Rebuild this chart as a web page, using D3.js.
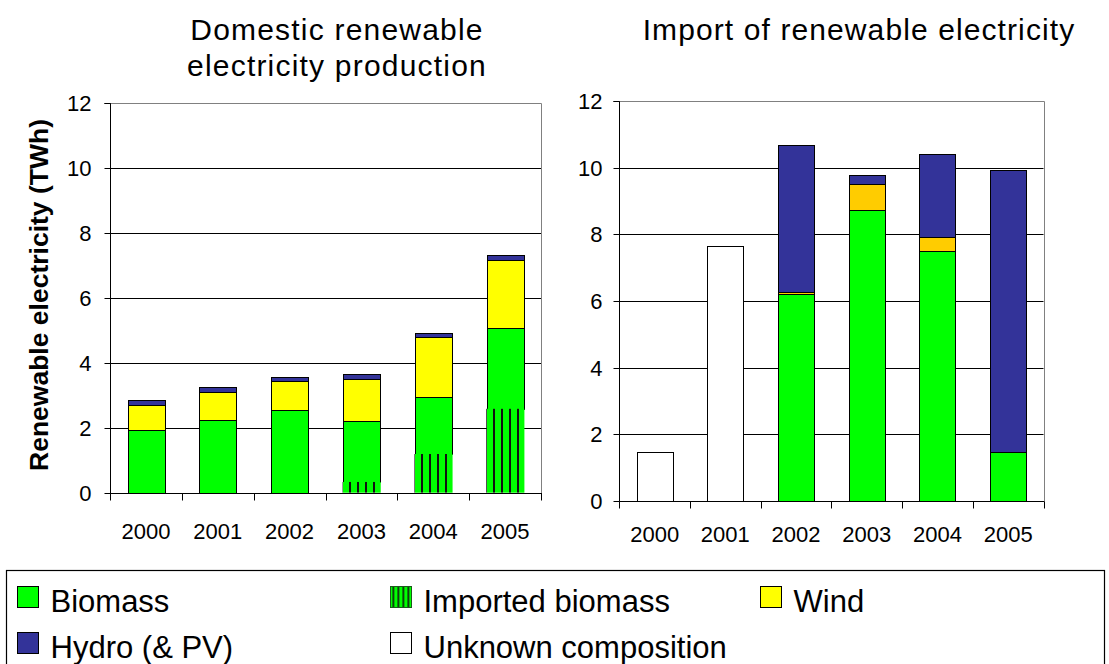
<!DOCTYPE html>
<html>
<head>
<meta charset="utf-8">
<script src="https://cdn.jsdelivr.net/npm/d3@7"></script>
<style>
  html, body { margin: 0; padding: 0; background: #fff; }
  svg { display: block; font-family: "Liberation Sans", Arial, sans-serif; }
</style>
</head>
<body>
<svg id="chart" width="1109" height="664"></svg>
<script>
// ---------- data ----------
const years = ["2000", "2001", "2002", "2003", "2004", "2005"];
const yTicks = [0, 2, 4, 6, 8, 10, 12];

// Domestic renewable electricity production (TWh)
const domImportedBiomass = [0, 0, 0, 0.33, 1.19, 2.58];
const domBiomass = [1.92, 2.25, 2.54, 1.88, 1.75, 2.50];
const domWind = [0.77, 0.86, 0.89, 1.30, 1.84, 2.08];
const domHydro = [0.17, 0.13, 0.13, 0.14, 0.14, 0.15];

// Import of renewable electricity (TWh)
const impUnknown = [1.47, 7.64, 0, 0, 0, 0];
const impBiomass = [0, 0, 6.20, 8.72, 7.51, 1.47];
const impWind = [0, 0, 0.08, 0.79, 0.40, 0];
const impHydro = [0, 0, 4.40, 0.26, 2.49, 8.45];

const legendItems = [
  { key: "biomass", label: "Biomass", col: 0, row: 0 },
  { key: "imported", label: "Imported biomass", col: 1, row: 0 },
  { key: "wind", label: "Wind", col: 2, row: 0 },
  { key: "hydro", label: "Hydro (& PV)", col: 0, row: 1 },
  { key: "unknown", label: "Unknown composition", col: 1, row: 1 }
];

// ---------- styles ----------
const COLORS = {
  biomass: "#00FF00",
  imported: "url(#hatch)",
  wind: "#FFFF00",
  windImp: "#FFCC00",
  hydro: "#333399",
  unknown: "#FFFFFF"
};

const svg = d3.select("#chart");
const defs = svg.append("defs");
const pat = defs.append("pattern")
  .attr("id", "hatch").attr("patternUnits", "userSpaceOnUse")
  .attr("width", 8).attr("height", 8);
pat.append("rect").attr("width", 8).attr("height", 8).attr("fill", "#00FF00");
pat.append("rect").attr("x", 5).attr("width", 2).attr("height", 8).attr("fill", "#111");

const pat2 = defs.append("pattern")
  .attr("id", "hatchSmall").attr("patternUnits", "userSpaceOnUse")
  .attr("width", 5).attr("height", 5);
pat2.append("rect").attr("width", 5).attr("height", 5).attr("fill", "#00FF00");
pat2.append("rect").attr("x", 2).attr("width", 1.6).attr("height", 5).attr("fill", "#111");

function drawPanel(cfg) {
  const x = d3.scaleBand().domain(years).range([cfg.x0, cfg.x1])
    .paddingInner(0.49).paddingOuter(0.245);
  const y = d3.scaleLinear().domain([0, 12]).range([cfg.yb, cfg.yt]);
  const g = svg.append("g");

  // gridlines
  g.selectAll("line.grid").data(yTicks.filter(t => t > 0 && t < 12)).enter()
    .append("line")
    .attr("x1", cfg.x0).attr("x2", cfg.x1)
    .attr("y1", d => Math.round(y(d)) + 0.5).attr("y2", d => Math.round(y(d)) + 0.5)
    .attr("stroke", "#000").attr("stroke-width", 1);

  // plot border top/right (gray)
  g.append("path")
    .attr("d", `M${cfg.x0},${Math.round(y(12)) + 0.5}H${Math.round(cfg.x1) + 0.5}V${Math.round(y(0))}`)
    .attr("fill", "none").attr("stroke", "#808080").attr("stroke-width", 1);

  // stacked bars
  const rows = years.map((yr, i) => {
    const o = { year: yr };
    cfg.series.forEach(s => { o[s.key] = s.values[i]; });
    return o;
  });
  const stack = d3.stack().keys(cfg.series.map(s => s.key));
  const layers = stack(rows);
  layers.forEach((layer, li) => {
    const s = cfg.series[li];
    const bars = layer.filter(d => d[1] - d[0] > 0);
    g.selectAll(null).data(bars).enter().append("rect")
      .attr("x", d => s.noStroke ? x(d.data.year) - 0.5 : Math.round(x(d.data.year)) + 0.5)
      .attr("y", d => s.noStroke ? y(d[1]) : Math.round(y(d[1])) + 0.5)
      .attr("width", s.noStroke ? x.bandwidth() + 1.5 : Math.round(x.bandwidth()))
      .attr("height", d => s.noStroke ? y(d[0]) - y(d[1]) : Math.max(0, Math.round(y(d[0])) - Math.round(y(d[1]))))
      .attr("fill", s.fill)
      .attr("stroke", s.noStroke ? "none" : "#000")
      .attr("stroke-width", 1);
  });
  // draw the hatched (no stroke) layers on top
  g.selectAll("rect").filter(function () { return d3.select(this).attr("stroke") === "none"; }).raise();

  // y axis
  const yAxis = d3.axisLeft(y).tickValues(yTicks).tickSize(6).tickPadding(cfg.yPad).tickFormat(d3.format("d"));
  const ya = g.append("g").attr("transform", `translate(${Math.round(cfg.x0) + 0.5},0)`).call(yAxis);
  ya.select(".domain").attr("stroke", "#000").attr("d", `M-6,${Math.round(y(12)) + 0.5}H0V${Math.round(y(0)) + 0.5}`);
  ya.selectAll(".tick line").attr("stroke", "#000");
  ya.selectAll(".tick").attr("transform", d => `translate(0,${Math.round(y(d)) + 0.5})`);
  ya.selectAll("text").attr("font-size", 22).attr("fill", "#000")
    .attr("font-family", "'Liberation Sans', Arial, sans-serif");

  // x axis baseline
  const y0 = Math.round(y(0)) + 0.5;
  g.append("line").attr("x1", cfg.x0).attr("x2", cfg.x1 + 1).attr("y1", y0).attr("y2", y0)
    .attr("stroke", "#000").attr("stroke-width", 1);
  // x ticks at category boundaries
  const bounds = years.map(yr => x(yr) - x.step() * x.paddingInner() / 2).concat([cfg.x1]);
  bounds[0] = cfg.x0;
  g.selectAll(null).data(bounds).enter().append("line")
    .attr("x1", d => Math.round(d) + 0.5).attr("x2", d => Math.round(d) + 0.5)
    .attr("y1", y0).attr("y2", y0 + 7)
    .attr("stroke", "#000");
  // x labels
  g.selectAll(null).data(years).enter().append("text")
    .attr("x", d => x(d) + x.bandwidth() / 2)
    .attr("y", cfg.labelY)
    .attr("text-anchor", "middle")
    .attr("font-size", 22)
    .attr("fill", "#000")
    .text(d => d);

  // title
  const t = g.append("text").attr("text-anchor", "middle")
    .attr("font-size", 30).attr("letter-spacing", cfg.titleSpacing).attr("fill", "#000");
  cfg.title.forEach((line, i) => {
    t.append("tspan").attr("x", cfg.titleX).attr("y", 40 + i * 36).text(line);
  });
}

drawPanel({
  x0: 110, x1: 541, yb: 492.7, yt: 102.5, yPad: 13, labelY: 539,
  titleX: 337, titleSpacing: "1.2px", title: ["Domestic renewable", "electricity production"],
  series: [
    { key: "imported", values: domImportedBiomass, fill: COLORS.imported, noStroke: true },
    { key: "biomass", values: domBiomass, fill: COLORS.biomass },
    { key: "wind", values: domWind, fill: COLORS.wind },
    { key: "hydro", values: domHydro, fill: COLORS.hydro }
  ]
});

drawPanel({
  x0: 619.3, x1: 1043.5, yb: 500.7, yt: 101.1, yPad: 11, labelY: 542,
  titleX: 859, titleSpacing: "1.1px", title: ["Import of renewable electricity"],
  series: [
    { key: "unknown", values: impUnknown, fill: COLORS.unknown },
    { key: "biomass", values: impBiomass, fill: COLORS.biomass },
    { key: "wind", values: impWind, fill: COLORS.windImp },
    { key: "hydro", values: impHydro, fill: COLORS.hydro }
  ]
});

// y-axis title
svg.append("text")
  .attr("transform", "translate(48,295) rotate(-90)")
  .attr("text-anchor", "middle")
  .attr("font-size", 26.5).attr("font-weight", "bold").attr("fill", "#000")
  .text("Renewable electricity (TWh)");

// ---------- legend ----------
const leg = svg.append("g");
leg.append("rect").attr("x", 6.5).attr("y", 570.5).attr("width", 1098).attr("height", 120)
  .attr("fill", "#fff").attr("stroke", "#000").attr("stroke-width", 1.2);
const colX = [17.5, 390.5, 760.5];
const rowY = [586.5, 632.5];
const swFill = { biomass: COLORS.biomass, imported: "url(#hatchSmall)", wind: COLORS.wind, hydro: COLORS.hydro, unknown: COLORS.unknown };
const li = leg.selectAll(null).data(legendItems).enter().append("g")
  .attr("transform", d => `translate(${colX[d.col]},${rowY[d.row]})`);
li.append("rect").attr("width", 21).attr("height", 21)
  .attr("fill", d => swFill[d.key])
  .attr("stroke", d => d.key === "imported" ? "#1a5c1a" : "#000").attr("stroke-width", 1);
li.append("text").attr("x", 33).attr("y", 25)
  .attr("font-size", 31).attr("fill", "#000")
  .text(d => d.label);
</script>
</body>
</html>
